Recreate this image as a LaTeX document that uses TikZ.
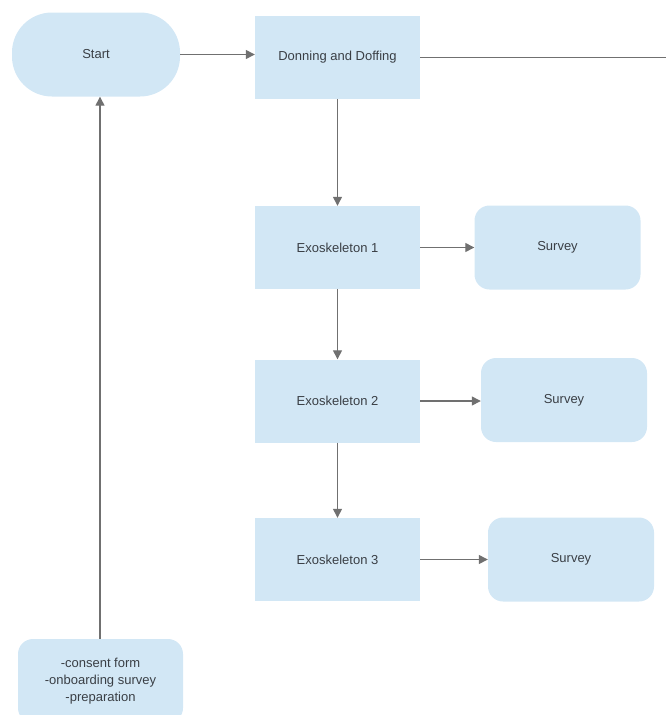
\documentclass[tikz,border=0pt]{standalone}
\usepackage{fontspec}
\setmainfont{Liberation Sans}
\usetikzlibrary{arrows.meta}
\definecolor{boxfill}{HTML}{D2E7F5}
\definecolor{linegray}{HTML}{707070}
\definecolor{txtgray}{HTML}{3A3F45}
\tikzset{
  base/.style={fill=boxfill, draw=none, text=txtgray, font=\fontsize{13}{15}\selectfont, inner sep=0pt},
  sqbox/.style={base, minimum width=165pt, minimum height=83pt},
  rbox/.style={base, rounded corners=15pt, minimum width=166pt, minimum height=84pt},
  stad/.style={base, rounded corners=40pt, minimum width=168pt, minimum height=84pt},
  conn/.style={draw=linegray, line width=1.3pt, -{Triangle[length=9pt,width=9pt]}},
  plain/.style={draw=linegray, line width=1.3pt}
}
\begin{document}
\begin{tikzpicture}[x=1pt,y=-1pt]
\useasboundingbox (0,0) rectangle (665,715);
\node[stad] (start) at (96,54.5) {Start};
\node[sqbox] (don) at (337.5,57.5) {Donning and Doffing};
\node[sqbox] (ex1) at (337.5,247.5) {Exoskeleton 1};
\node[rbox] (s1) at (557.5,247.5) {Survey};
\node[sqbox] (ex2) at (337.5,401) {Exoskeleton 2};
\node[rbox] (s2) at (564,400) {Survey};
\node[sqbox] (ex3) at (337.5,559.5) {Exoskeleton 3};
\node[rbox] (s3) at (571,559.5) {Survey};
\node[base, rounded corners=15pt, minimum width=165pt, minimum height=84pt, align=center, font=\fontsize{13}{17}\selectfont] (prep) at (100.5,681) {-consent form\\-onboarding survey\\-preparation};
\coordinate (edge) at (666,57.5);
\draw[conn] (start.east) -- (start.east -| don.west);
\draw[plain] (don.east) -- (edge);
\draw[conn] (don.south) -- (ex1.north);
\draw[conn] (ex1.south) -- (ex2.north);
\draw[conn] (ex2.south) -- (ex3.north);
\draw[conn] (ex1.east) -- (s1.west);
\draw[conn] (ex2.east) -- (ex2.east -| s2.west);
\draw[conn] (ex3.east) -- (ex3.east -| s3.west);
\draw[conn] (prep.north -| 100,0) -- (start.south -| 100,0);
\end{tikzpicture}
\end{document}
